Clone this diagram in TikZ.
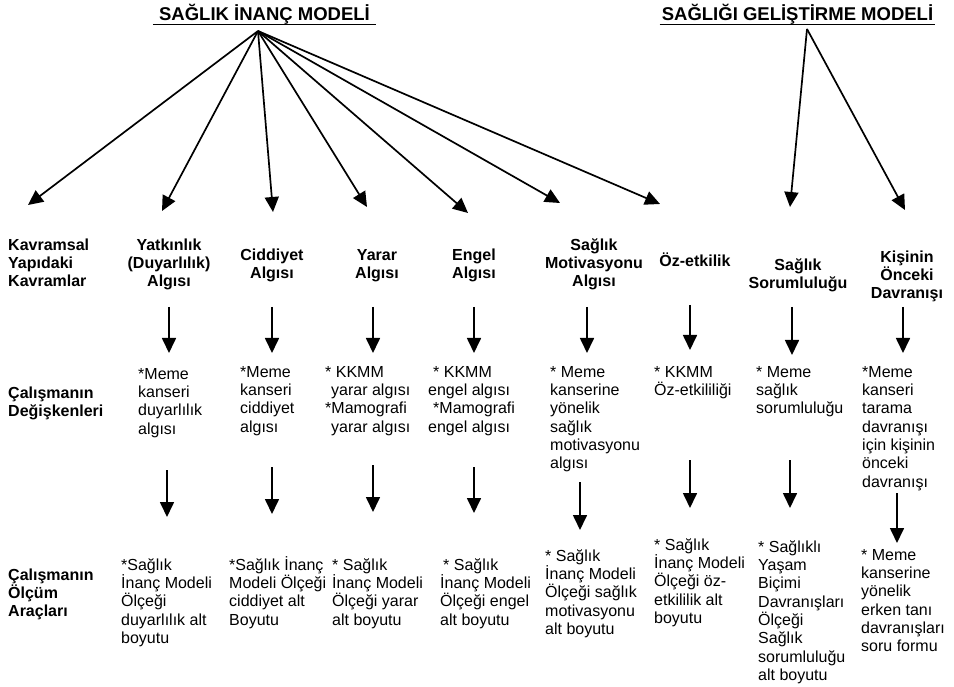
\documentclass[tikz,border=0pt]{standalone}
\usepackage{fontspec}
\setmainfont{Liberation Sans}
\usetikzlibrary{arrows.meta}
\newcommand{\fst}{\rule{0pt}{15pt}}
\tikzset{
  hdr/.style={font=\bfseries\fontsize{16}{18.3}\selectfont, align=center, inner sep=0pt, anchor=north},
  rowlbl/.style={font=\bfseries\fontsize{16}{18.3}\selectfont, align=left, inner sep=0pt, anchor=north west},
  body/.style={font=\fontsize{16}{18.3}\selectfont, align=left, inner sep=0pt, anchor=north west},
  ttl/.style={font=\bfseries\fontsize{18.5}{22}\selectfont, inner sep=0pt, anchor=base},
  arr/.style={-{Triangle[length=15pt,width=14pt]}, line width=1.7pt},
  uline/.style={line width=1.7pt}
}
\begin{document}
\begin{tikzpicture}[x=1pt,y=-1pt]
\useasboundingbox[fill=white] (0,0) rectangle (954,687);
% titles
\node[ttl] (tsim) at (264.5,21) {SAĞLIK İNANÇ MODELİ};
\node[ttl] (tsgm) at (797.5,21) {SAĞLIĞI GELİŞTİRME MODELİ};
\draw[uline] ([xshift=-6pt,yshift=-3.5pt]tsim.base west) -- ([xshift=6pt,yshift=-3.5pt]tsim.base east);
\draw[uline] ([xshift=-2pt,yshift=-3.5pt]tsgm.base west) -- ([xshift=2pt,yshift=-3.5pt]tsgm.base east);
% apexes and fan tips
\coordinate (ap1) at (258,31);
\coordinate (ap2) at (807,29);
\coordinate (f0) at (28,205);
\coordinate (f1) at (162,211);
\coordinate (f2) at (273,212);
\coordinate (f3) at (367,207);
\coordinate (f4) at (468,213);
\coordinate (f5) at (560,203);
\coordinate (f6) at (660,204);
\coordinate (f7) at (790,207);
\coordinate (f8) at (905,210);
\foreach \t in {f0,f1,f2,f3,f4,f5,f6} \draw[arr] (ap1) -- (\t);
\foreach \t in {f7,f8} \draw[arr] (ap2) -- (\t);
% row labels
\node[rowlbl] (lbl1) at (8,235) {\fst Kavramsal\\Yapıdaki\\Kavramlar};
\node[rowlbl] (lbl2) at (8,383) {\fst Çalışmanın\\Değişkenleri};
\node[rowlbl] (lbl3) at (8,565) {\fst Çalışmanın\\Ölçüm\\Araçları};
% headers
\node[hdr] (h1) at (169,235) {\fst Yatkınlık\\(Duyarlılık)\\Algısı};
\node[hdr] (h2) at (272,245) {\fst Ciddiyet\\Algısı};
\node[hdr] (h3) at (377,245) {\fst Yarar\\Algısı};
\node[hdr] (h4) at (474,245) {\fst Engel\\Algısı};
\node[hdr] (h5) at (594,235) {\fst Sağlık\\Motivasyonu\\Algısı};
\node[hdr] (h6) at (695,251) {\fst Öz-etkilik};
\node[hdr] (h7) at (798,255) {\fst Sağlık\\Sorumluluğu};
\node[hdr] (h8) at (907,247) {\fst Kişinin\\Önceki\\Davranışı};
% variables
\node[body] (v1) at (138,364) {\fst *Meme\\kanseri\\duyarlılık\\algısı};
\node[body] (v2) at (240,362) {\fst *Meme\\kanseri\\ciddiyet\\algısı};
\node[body] (v3) at (325,362) {\fst * KKMM\\\hspace*{6pt}yarar algısı\\*Mamografi\\\hspace*{6pt}yarar algısı};
\node[body] (v4) at (428,362) {\fst\hspace*{5pt}* KKMM\\engel algısı\\\hspace*{5pt}*Mamografi\\engel algısı};
\node[body] (v5) at (550,362) {\fst * Meme\\kanserine\\yönelik\\sağlık\\motivasyonu\\algısı};
\node[body] (v6) at (654,362) {\fst * KKMM\\Öz-etkililiği};
\node[body] (v7) at (756,362) {\fst * Meme\\sağlık\\sorumluluğu};
\node[body] (v8) at (862,362) {\fst *Meme\\kanseri\\tarama\\davranışı\\için kişinin\\önceki\\davranışı};
% measurement tools
\node[body] (m1) at (121,555) {\fst *Sağlık\\İnanç Modeli\\Ölçeği\\duyarlılık alt\\boyutu};
\node[body] (m2) at (229,555) {\fst *Sağlık İnanç\\Modeli Ölçeği\\ciddiyet alt\\Boyutu};
\node[body] (m3) at (332,555) {\fst * Sağlık\\İnanç Modeli\\Ölçeği yarar\\alt boyutu};
\node[body] (m4) at (440,555) {\fst\hspace*{3pt}* Sağlık\\İnanç Modeli\\Ölçeği engel\\alt boyutu};
\node[body] (m5) at (545,546) {\fst * Sağlık\\İnanç Modeli\\Ölçeği sağlık\\motivasyonu\\alt boyutu};
\node[body] (m6) at (654,535) {\fst * Sağlık\\İnanç Modeli\\Ölçeği öz-\\etkililik alt\\boyutu};
\node[body] (m7) at (758,537) {\fst * Sağlıklı\\Yaşam\\Biçimi\\Davranışları\\Ölçeği\\Sağlık\\sorumluluğu\\alt boyutu};
\node[body] (m8) at (861,545) {\fst * Meme\\kanserine\\yönelik\\erken tanı\\davranışları\\soru formu};
% vertical arrows: headers -> variables
\coordinate (a1s) at (169,307); \coordinate (a1e) at (169,353);
\coordinate (a2s) at (272,307); \coordinate (a2e) at (272,353);
\coordinate (a3s) at (373,307); \coordinate (a3e) at (373,353);
\coordinate (a4s) at (474,307); \coordinate (a4e) at (474,353);
\coordinate (a5s) at (587,307); \coordinate (a5e) at (587,353);
\coordinate (a6s) at (690,305); \coordinate (a6e) at (690,350);
\coordinate (a7s) at (792,307); \coordinate (a7e) at (792,355);
\coordinate (a8s) at (903,307); \coordinate (a8e) at (903,353);
\foreach \i in {1,...,8} \draw[arr] (a\i s) -- (a\i e);
% vertical arrows: variables -> measurement tools
\coordinate (b1s) at (167,470); \coordinate (b1e) at (167,517);
\coordinate (b2s) at (272,467); \coordinate (b2e) at (272,514);
\coordinate (b3s) at (373,465); \coordinate (b3e) at (373,512);
\coordinate (b4s) at (474,467); \coordinate (b4e) at (474,513);
\coordinate (b5s) at (580,482); \coordinate (b5e) at (580,530);
\coordinate (b6s) at (690,460); \coordinate (b6e) at (690,508);
\coordinate (b7s) at (790,460); \coordinate (b7e) at (790,508);
\coordinate (b8s) at (897,493); \coordinate (b8e) at (897,543);
\foreach \i in {1,...,8} \draw[arr] (b\i s) -- (b\i e);
\end{tikzpicture}
\end{document}
